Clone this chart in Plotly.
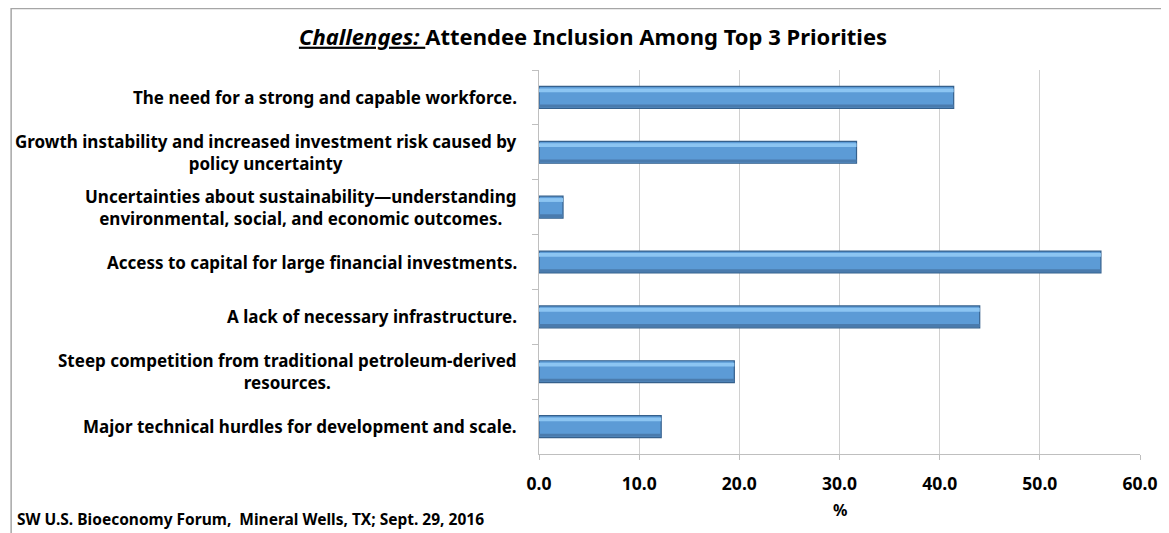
import plotly.graph_objects as go

categories = [
    "The need for a strong and capable workforce.",
    "Growth instability and increased investment risk caused by<br>policy uncertainty",
    "Uncertainties about sustainability\u2014understanding<br>environmental, social, and economic outcomes.",
    "Access to capital for large financial investments.",
    "A lack of necessary infrastructure.",
    "Steep competition from traditional petroleum-derived<br>resources.",
    "Major technical hurdles for development and scale.",
]
values = [41.4, 31.7, 2.4, 56.1, 44.0, 19.5, 12.2]
x_ticks = [0, 10, 20, 30, 40, 50, 60]

FONT = "Noto Sans"
OFF = 8  # page body margin
W, H = 1169 - OFF, 533 - OFF
L, R, T, B = 539 - OFF, 26, 70 - OFF, 79
pw, ph = W - L - R, H - T - B

def px_x(p):  # reference-image pixel -> paper
    return (p - OFF - L) / pw

def px_y(p):
    return 1 - (p - OFF - T) / ph

fig = go.Figure()
fig.add_trace(go.Bar(
    x=values, y=categories, orientation="h", width=0.40,
    marker=dict(color="#5C9BD6", line=dict(color="#35608C", width=1.2)),
    hoverinfo="x+y",
))
fig.add_trace(go.Bar(
    x=values, y=categories, orientation="h", width=0.07, offset=-0.165,
    marker=dict(color="#8CC5F2", line=dict(width=0)), hoverinfo="skip",
))
fig.add_trace(go.Bar(
    x=values, y=categories, orientation="h", width=0.055, offset=0.13,
    marker=dict(color="#4A7BAD", line=dict(width=0)), hoverinfo="skip",
))

annotations = []
for c in categories:
    annotations.append(dict(
        x=px_x(519), xref="paper", y=c, yref="y", text="<b>" + c + "</b>",
        xanchor="right", yanchor="middle", align="center", showarrow=False,
        font=dict(family=FONT, size=17, color="#000000"),
    ))
annotations.append(dict(
    x=px_x(12), xref="paper", y=px_y(519), yref="paper",
    text="<b>SW U.S. Bioeconomy Forum,  Mineral Wells, TX; Sept. 29, 2016</b>",
    xanchor="left", yanchor="middle", showarrow=False,
    font=dict(family=FONT, size=15.5, color="#000000"),
))
annotations.append(dict(
    x=0.5, xref="paper", y=px_y(510), yref="paper", text="<b>%</b>",
    xanchor="center", yanchor="middle", showarrow=False,
    font=dict(family=FONT, size=16, color="#000000"),
))

fig.update_layout(
    width=W, height=H,
    margin=dict(l=L, r=R, t=T, b=B),
    paper_bgcolor="white", plot_bgcolor="white",
    barmode="overlay", showlegend=False,
    title=dict(
        text="<b><i><u>Challenges: </u></i>Attendee Inclusion Among Top 3 Priorities</b>",
        x=(593 - OFF) / W, xanchor="center", y=1 - (37 - OFF) / H, yanchor="middle",
        font=dict(family=FONT, size=22, color="#000000"),
    ),
    annotations=annotations,
    shapes=[dict(type="rect", xref="paper", yref="paper",
                 x0=px_x(8.5), x1=px_x(1400), y0=px_y(700), y1=px_y(8.5),
                 line=dict(color="#A6A6A6", width=1.5), layer="below")],
)
fig.update_xaxes(
    range=[0, 60], tickvals=x_ticks, tickformat=".1f",
    showgrid=True, gridcolor="#D0D0D0", gridwidth=1,
    showline=True, linecolor="#BFBFBF", linewidth=1,
    ticks="outside", ticklen=5, tickcolor="#BFBFBF",
    ticklabelstandoff=9,
    tickfont=dict(family=FONT, size=17.5, color="#000000", weight="bold"),
    zeroline=False,
)
fig.update_yaxes(
    autorange="reversed", showticklabels=False,
    showline=True, linecolor="#BFBFBF", linewidth=1,
    ticks="outside", tickson="boundaries", ticklen=6, tickcolor="#BFBFBF",
    showgrid=False,
)

fig.write_html("out.html")
